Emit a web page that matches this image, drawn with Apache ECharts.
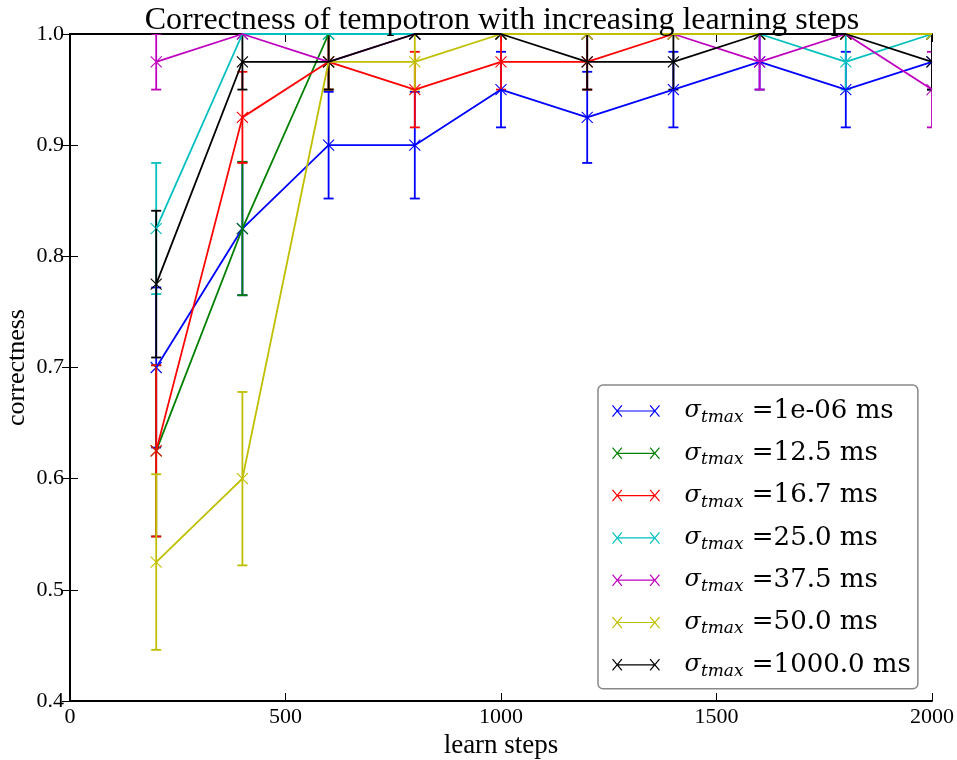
<!DOCTYPE html>
<html>
<head>
<meta charset="utf-8">
<title>Correctness of tempotron</title>
<script src="https://cdn.jsdelivr.net/npm/echarts@6/dist/echarts.min.js"></script>
<style>
  html, body { margin: 0; padding: 0; background: #ffffff; }
  #chart { width: 957px; height: 760px; }
</style>
</head>
<body>
<div id="chart"></div>
<script>
// learning steps on the x axis
const steps = [200, 400, 600, 800, 1000, 1200, 1400, 1600, 1800, 2000];

// mean correctness and error (half bar length) for each sigma_tmax
const blueVals    = [0.700, 0.825, 0.900, 0.900, 0.950, 0.925, 0.950, 0.975, 0.950, 0.975];
const blueErr     = [0.072, 0.060, 0.048, 0.048, 0.034, 0.041, 0.034, 0.025, 0.034, 0.025];
const greenVals   = [0.625, 0.825, 1.000, 1.000, 1.000, 1.000, 1.000, 1.000, 1.000, 1.000];
const greenErr    = [0.077, 0.060, 0, 0, 0, 0, 0, 0, 0, 0];
const redVals     = [0.625, 0.925, 0.975, 0.950, 0.975, 0.975, 1.000, 1.000, 1.000, 1.000];
const redErr      = [0.077, 0.041, 0.025, 0.034, 0.025, 0.025, 0, 0, 0, 0];
const cyanVals    = [0.825, 1.000, 1.000, 1.000, 1.000, 1.000, 1.000, 1.000, 0.975, 1.000];
const cyanErr     = [0.059, 0, 0, 0, 0, 0, 0, 0, 0.025, 0];
const magentaVals = [0.975, 1.000, 0.975, 1.000, 1.000, 1.000, 1.000, 0.975, 1.000, 0.950];
const magentaErr  = [0.025, 0, 0.025, 0, 0, 0, 0, 0.025, 0, 0.034];
const yellowVals  = [0.525, 0.600, 0.975, 0.975, 1.000, 1.000, 1.000, 1.000, 1.000, 1.000];
const yellowErr   = [0.079, 0.078, 0.025, 0.025, 0, 0, 0, 0, 0, 0];
const blackVals   = [0.775, 0.975, 0.975, 1.000, 1.000, 0.975, 0.975, 1.000, 1.000, 0.975];
const blackErr    = [0.066, 0.025, 0.025, 0, 0, 0.025, 0.025, 0, 0, 0.025];

// legend labels (value part after the sigma symbol)
const sigmaLabels = ['1e-06 ms', '12.5 ms', '16.7 ms', '25.0 ms', '37.5 ms', '50.0 ms', '1000.0 ms'];
const colors = ['#0000ff', '#008000', '#ff0000', '#00bfbf', '#bf00bf', '#bfbf00', '#000000'];
const valueSets = [blueVals, greenVals, redVals, cyanVals, magentaVals, yellowVals, blackVals];
const errorSets = [blueErr, greenErr, redErr, cyanErr, magentaErr, yellowErr, blackErr];

// tick labels
const xTicks = { min: 0, max: 2000, interval: 500 };
const yTicks = { min: 0.4, max: 1.0, interval: 0.1 };

const FONT = 'Liberation Serif';
const LEGEND_FONT = 'DejaVu Serif';
const CAP = 5;      // half width of error bar caps
const MARK = 5.5;   // half size of the x marker
const LINE_W = 1.8;

function renderErrorBars(params, api) {
  const x = api.value(0), y = api.value(1), e = api.value(2);
  const color = api.visual('color');
  const c = api.coord([x, y]);
  const barStyle = { stroke: color, lineWidth: LINE_W };
  const children = [];
  if (e > 0) {
    const top = api.coord([x, y + e]);
    const bot = api.coord([x, y - e]);
    children.push({ type: 'line', shape: { x1: top[0], y1: top[1], x2: bot[0], y2: bot[1] }, style: barStyle });
    children.push({ type: 'line', shape: { x1: top[0] - CAP, y1: top[1], x2: top[0] + CAP, y2: top[1] }, style: barStyle });
    children.push({ type: 'line', shape: { x1: bot[0] - CAP, y1: bot[1], x2: bot[0] + CAP, y2: bot[1] }, style: barStyle });
  }
  const markStyle = { stroke: color, lineWidth: 1.1 };
  children.push({ type: 'line', shape: { x1: c[0] - MARK, y1: c[1] - MARK, x2: c[0] + MARK, y2: c[1] + MARK }, style: markStyle });
  children.push({ type: 'line', shape: { x1: c[0] - MARK, y1: c[1] + MARK, x2: c[0] + MARK, y2: c[1] - MARK }, style: markStyle });
  return { type: 'group', children };
}

const series = [];
sigmaLabels.forEach((name, i) => {
  series.push({
    name: name,
    type: 'line',
    data: steps.map((s, k) => [s, valueSets[i][k]]),
    symbol: 'none',
    color: colors[i],
    lineStyle: { color: colors[i], width: LINE_W },
    clip: true,
    silent: true,
    animation: false,
    xAxisIndex: 0, yAxisIndex: 0
  });
  series.push({
    name: name,
    type: 'custom',
    data: steps.map((s, k) => [s, valueSets[i][k], errorSets[i][k]]),
    renderItem: renderErrorBars,
    itemStyle: { color: colors[i] },
    encode: { x: 0, y: 1 },
    clip: true,
    silent: true,
    animation: false,
    xAxisIndex: 0, yAxisIndex: 0
  });
});

// legend icon: a short line with an x marker at each end
const legendIcon = 'path://M5,6L45,6M0,0L10,12M10,0L0,12M40,0L50,12M50,0L40,12';

const axisLineStyle = { color: '#000', width: 1.9 };
const tickStyle = { show: true, inside: true, length: 8, lineStyle: { color: '#000', width: 1 } };

const option = {
  backgroundColor: '#ffffff',
  animation: false,
  title: {
    text: 'Correctness of tempotron with increasing learning steps',
    left: 497,
    top: 0,
    textAlign: 'center',
    textStyle: { fontFamily: FONT, fontSize: 32, fontWeight: 'normal', color: '#000' }
  },
  grid: { left: 70, right: 25, top: 34, bottom: 59, containLabel: false, outerBoundsMode: 'none' },
  xAxis: [
    {
      type: 'value', min: xTicks.min, max: xTicks.max, interval: xTicks.interval,
      name: 'learn steps', nameLocation: 'middle', nameGap: 31, nameMoveOverlap: false,
      nameTextStyle: { fontFamily: FONT, fontSize: 27, color: '#000' },
      axisLine: { show: true, lineStyle: axisLineStyle },
      axisTick: tickStyle,
      axisLabel: { fontFamily: FONT, fontSize: 22, color: '#000', margin: 5,
                   formatter: v => String(v) },
      splitLine: { show: false }
    },
    {
      type: 'value', position: 'top', min: xTicks.min, max: xTicks.max, interval: xTicks.interval,
      axisLine: { show: true, lineStyle: axisLineStyle },
      axisTick: tickStyle,
      axisLabel: { show: false },
      splitLine: { show: false }
    }
  ],
  yAxis: [
    {
      type: 'value', min: yTicks.min, max: yTicks.max, interval: yTicks.interval,
      name: 'correctness', nameLocation: 'middle', nameGap: 40, nameRotate: 90, nameMoveOverlap: false,
      nameTextStyle: { fontFamily: FONT, fontSize: 26, color: '#000' },
      axisLine: { show: true, lineStyle: axisLineStyle },
      axisTick: tickStyle,
      axisLabel: { fontFamily: FONT, fontSize: 22, color: '#000', margin: 6,
                   formatter: v => v.toFixed(1) },
      splitLine: { show: false }
    },
    {
      type: 'value', position: 'right', min: yTicks.min, max: yTicks.max, interval: yTicks.interval,
      axisLine: { show: true, lineStyle: axisLineStyle },
      axisTick: tickStyle,
      axisLabel: { show: false },
      splitLine: { show: false }
    }
  ],
  legend: {
    orient: 'vertical',
    left: 598,
    top: 385,
    padding: [13, 7, 9, 12],
    itemGap: 14.3,
    itemWidth: 47,
    itemHeight: 12,
    icon: legendIcon,
    backgroundColor: '#ffffff',
    borderColor: '#888888',
    borderWidth: 1.5,
    borderRadius: 5,
    selectedMode: false,
    data: sigmaLabels.map((n, i) => ({
      name: n,
      icon: legendIcon,
      itemStyle: { color: 'none', borderColor: colors[i], borderWidth: 1.2 }
    })),
    formatter: n => '{s|σ}{sub|tmax}{v| =' + n + '}',
    textStyle: {
      color: '#000',
      rich: {
        s: { fontFamily: LEGEND_FONT, fontStyle: 'italic', fontSize: 24, lineHeight: 30, padding: [0, 0, 0, 20] },
        sub: { fontFamily: LEGEND_FONT, fontStyle: 'italic', fontSize: 17, lineHeight: 17, verticalAlign: 'bottom' },
        v: { fontFamily: LEGEND_FONT, fontSize: 26, lineHeight: 30 }
      }
    }
  },
  series: series
};

const chart = echarts.init(document.getElementById('chart'), null, { renderer: 'canvas' });
chart.setOption(option);
</script>
</body>
</html>
